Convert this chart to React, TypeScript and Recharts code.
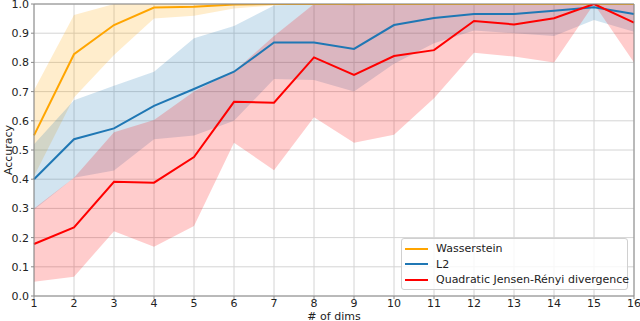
import { ComposedChart, Area, Line, XAxis, YAxis, CartesianGrid, ReferenceLine } from 'recharts';

const DIMS = [1, 2, 3, 4, 5, 6, 7, 8, 9, 10, 11, 12, 13, 14, 15, 16];
const Y_TICKS = [0, 0.1, 0.2, 0.3, 0.4, 0.5, 0.6, 0.7, 0.8, 0.9, 1.0];

const WASS = [0.55, 0.828, 0.928, 0.988, 0.991, 0.998, 1, 1, 1, 1, 1, 1, 1, 1, 1, 1];
const WASS_LOW = [0.41, 0.68, 0.825, 0.95, 0.96, 0.985, 0.995, 1, 0.995, 1, 1, 1, 1, 1, 1, 1];
const WASS_HIGH = [0.705, 0.962, 1, 1, 1, 1, 1, 1, 1, 1, 1, 1, 1, 1, 1, 1];

const L2 = [0.4, 0.537, 0.574, 0.651, 0.709, 0.768, 0.868, 0.868, 0.846, 0.928, 0.952, 0.966, 0.966, 0.977, 0.989, 0.966];
const L2_LOW = [0.295, 0.405, 0.43, 0.537, 0.55, 0.6, 0.743, 0.74, 0.7, 0.795, 0.866, 0.909, 0.9, 0.89, 0.945, 0.905];
const L2_HIGH = [0.52, 0.67, 0.72, 0.768, 0.883, 0.925, 0.995, 1, 1, 1, 1, 1, 1, 1, 1, 1];

const QJR = [0.178, 0.235, 0.391, 0.388, 0.476, 0.665, 0.662, 0.817, 0.757, 0.822, 0.842, 0.942, 0.93, 0.951, 1.0, 0.936];
const QJR_LOW = [0.049, 0.066, 0.222, 0.169, 0.24, 0.525, 0.431, 0.612, 0.525, 0.552, 0.677, 0.833, 0.82, 0.8, 1.0, 0.8];
const QJR_HIGH = [0.3, 0.405, 0.561, 0.603, 0.7, 0.77, 0.89, 1, 1, 1, 1, 1, 1, 1, 1, 1];

const SERIES = [
  { key: 'wass', name: 'Wasserstein', color: '#ffa500' },
  { key: 'l2', name: 'L2', color: '#1f77b4' },
  { key: 'qjr', name: 'Quadratic Jensen-Rényi divergence', color: '#ff0000' },
];

const data = DIMS.map((dim, i) => ({
  dim,
  wass: WASS[i],
  wassBand: [WASS_LOW[i], WASS_HIGH[i]],
  l2: L2[i],
  l2Band: [L2_LOW[i], L2_HIGH[i]],
  qjr: QJR[i],
  qjrBand: [QJR_LOW[i], QJR_HIGH[i]],
}));

const FONT = '"DejaVu Sans", sans-serif';
const TICK = { fontSize: 11, fill: '#222', fontFamily: FONT };
const SPINE = '#8a8a8a';

export default function App() {
  return (
    <div style={{ position: 'absolute', left: 0, top: 0, width: 640, height: 321, background: '#fff' }}>
      <ComposedChart width={640} height={321} data={data} margin={{ top: 4, right: 6, bottom: 0, left: 0 }}>
        <CartesianGrid stroke="#d4d4d4" strokeWidth={1} />
        <XAxis
          type="number"
          dataKey="dim"
          domain={[1, 16]}
          ticks={DIMS}
          interval={0}
          height={25}
          tick={TICK}
          tickSize={3}
          tickMargin={0}
          axisLine={{ stroke: SPINE }}
          tickLine={{ stroke: SPINE }}
          label={{
            content: () => (
              <text x={334} y={320} textAnchor="middle" fontSize={11} fontFamily={FONT} fill="#222">
                # of dims
              </text>
            ),
          }}
        />
        <YAxis
          type="number"
          domain={[0, 1]}
          ticks={Y_TICKS}
          interval={0}
          width={34}
          allowDataOverflow
          tick={TICK}
          tickSize={3}
          tickMargin={2}
          tickFormatter={(v: number) => v.toFixed(1)}
          axisLine={{ stroke: SPINE }}
          tickLine={{ stroke: SPINE }}
          label={{
            content: () => (
              <text
                x={8}
                y={150}
                transform="rotate(-90 8 150)"
                textAnchor="middle"
                dominantBaseline="central"
                fontSize={11}
                fontFamily={FONT}
                fill="#222"
              >
                Accuracy
              </text>
            ),
          }}
        />

        {SERIES.map((s) => (
          <Area
            key={s.key + 'Band'}
            type="linear"
            dataKey={s.key + 'Band'}
            stroke="none"
            fill={s.color}
            fillOpacity={0.2}
            activeDot={false}
            dot={false}
            isAnimationActive={false}
          />
        ))}

        {SERIES.map((s) => (
          <Line
            key={s.key}
            type="linear"
            dataKey={s.key}
            stroke={s.color}
            strokeWidth={2}
            dot={false}
            activeDot={false}
            isAnimationActive={false}
          />
        ))}

        <ReferenceLine y={1} stroke={SPINE} />
        <ReferenceLine x={16} stroke={SPINE} />
      </ComposedChart>

      <div
        style={{
          position: 'absolute',
          left: 401,
          top: 238,
          width: 227,
          height: 52,
          boxSizing: 'border-box',
          border: '1px solid #d0d0d0',
          borderRadius: 3,
          background: 'rgba(255,255,255,0.8)',
          fontFamily: FONT,
          fontSize: 11,
          color: '#222',
          paddingTop: 2,
        }}
      >
        {SERIES.map((s) => (
          <div key={s.key} style={{ display: 'flex', alignItems: 'center', height: 15.5 }}>
            <svg width={34} height={10} style={{ flex: 'none' }}>
              <line x1={3} y1={5} x2={26} y2={5} stroke={s.color} strokeWidth={2} />
            </svg>
            <span style={{ whiteSpace: 'nowrap' }}>{s.name}</span>
          </div>
        ))}
      </div>
    </div>
  );
}
